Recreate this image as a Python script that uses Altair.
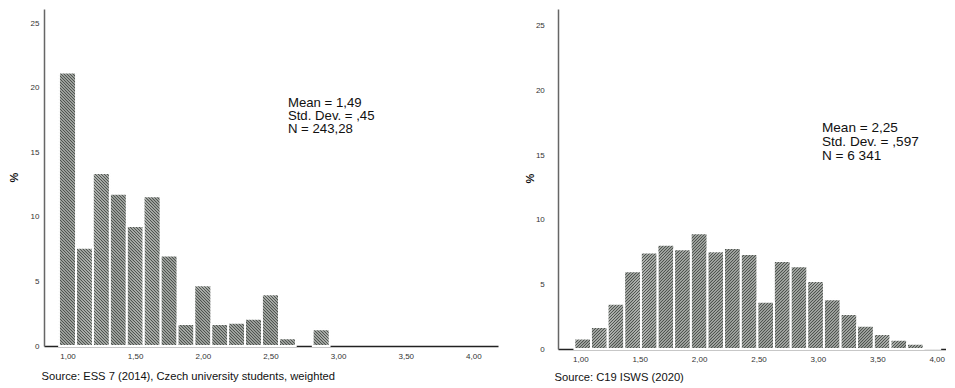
import altair as alt
import pandas as pd
import numpy as np

# ---------------- data ----------------
# Left panel: ESS 7 (2014), bins of width 0.125 centred on the values
ess_centers = [1.000, 1.125, 1.250, 1.375, 1.500, 1.625, 1.750, 1.875,
               2.000, 2.125, 2.250, 2.375, 2.500, 2.625, 2.750, 2.875]
ess_pct = [21.2, 7.6, 13.4, 11.8, 9.3, 11.6, 7.0, 1.7,
           4.7, 1.7, 1.8, 2.1, 4.0, 0.6, 0.0, 1.3]
ess_bin_width = 0.125

# Right panel: C19 ISWS (2020)
c19_centers = [1.02, 1.16, 1.30, 1.44, 1.58, 1.72, 1.86, 2.00, 2.14, 2.28, 2.42,
               2.56, 2.70, 2.84, 2.98, 3.12, 3.26, 3.40, 3.54, 3.68, 3.82, 3.96]
c19_pct = [0.8, 1.7, 3.5, 6.0, 7.45, 8.05, 7.7, 8.95, 7.55, 7.8, 7.35,
           3.65, 6.8, 6.4, 5.25, 3.85, 2.7, 1.8, 1.15, 0.7, 0.4, 0.05]
c19_bin_width = 0.14

x_ticks = [1.0, 1.5, 2.0, 2.5, 3.0, 3.5, 4.0]
y_ticks = [0, 5, 10, 15, 20, 25]

ess_stats = ["Mean = 1,49", "Std. Dev. = ,45", "N = 243,28"]
c19_stats = ["Mean = 2,25", "Std. Dev. = ,597", "N = 6 341"]
ess_source = "Source: ESS 7 (2014), Czech university students, weighted"
c19_source = "Source: C19 ISWS (2020)"

FONT = "Liberation Sans"
DARK = "#4f544f"
LIGHT = "#e3e5e3"


def hatch_segments(df, xdom, ydom, W, H, direction, period=3.0):
    """Diagonal hatch lines clipped to each bar, returned in data units."""
    sx = W / (xdom[1] - xdom[0])
    sy = H / (ydom[1] - ydom[0])
    rows = []
    for _, r in df.iterrows():
        xa = (r["lo"] - xdom[0]) * sx
        xb = (r["hi"] - xdom[0]) * sx
        ya = H - (r["pct"] - ydom[0]) * sy
        yb = H - (0 - ydom[0]) * sy
        if direction == "down":
            cmin, cmax = ya - xb, yb - xa
        else:
            cmin, cmax = ya + xa, yb + xb
        for k in range(int(np.ceil(cmin / period)), int(np.floor(cmax / period)) + 1):
            c = k * period
            if direction == "down":
                x1, x2 = max(xa, ya - c), min(xb, yb - c)
                if x2 - x1 <= 0.05:
                    continue
                p = (x1, x1 + c, x2, x2 + c)
            else:
                x1, x2 = max(xa, c - yb), min(xb, c - ya)
                if x2 - x1 <= 0.05:
                    continue
                p = (x1, c - x1, x2, c - x2)
            rows.append({
                "hx": xdom[0] + p[0] / sx,
                "hy": ydom[0] + (H - p[1]) / sy,
                "hx2": xdom[0] + p[2] / sx,
                "hy2": ydom[0] + (H - p[3]) / sy,
            })
    return pd.DataFrame(rows)


def panel(centers, pct, bw, xdom, ydom, W, H, direction, stats, stats_x, stats_y,
          stats_size, stats_lh, source, ylabpad, ytx, yty, xtx, xty):
    df = pd.DataFrame({"c": centers, "pct": pct})
    df["lo"] = df["c"] - bw / 2
    df["hi"] = df["c"] + bw / 2
    df["zero"] = 0.0
    df = df[df["pct"] > 0].reset_index(drop=True)

    xs = alt.Scale(domain=xdom, nice=False, zero=False)
    ys = alt.Scale(domain=ydom, nice=False, zero=False)
    xaxis = alt.Axis(values=x_ticks, labelExpr="replace(format(datum.value, '.2f'), '.', ',')",
                     ticks=False, tickSize=0, grid=False, labelFontSize=8, labelColor="#333",
                     labelPadding=6, labelFont=FONT, domainColor="#222", domainWidth=1.5,
                     title=source, titleFont=FONT, titleFontSize=11.2, titleFontWeight="normal",
                     titleColor="#111", titleAnchor="start", titleAlign="left",
                     titleBaseline="middle", titleX=xtx, titleY=xty)
    yaxis = alt.Axis(values=y_ticks, format="d", ticks=False, tickSize=0, grid=False,
                     labelFontSize=8, labelColor="#333", labelPadding=ylabpad, labelFont=FONT,
                     domainColor="#666", domainWidth=1.5,
                     title="%", titleFont=FONT, titleFontSize=11, titleFontWeight="bold",
                     titleColor="#111", titleAngle=270, titleAlign="center",
                     titleBaseline="middle", titleX=ytx, titleY=yty)

    base = alt.Chart(df).mark_rect(fill=LIGHT).encode(
        x=alt.X("lo:Q", scale=xs, axis=xaxis), x2="hi:Q",
        y=alt.Y("pct:Q", scale=ys, axis=yaxis), y2="zero:Q")

    hdf = hatch_segments(df, xdom, ydom, W, H, direction)
    hatch = alt.Chart(hdf).mark_rule(color=DARK, strokeWidth=1.35).encode(
        x=alt.X("hx:Q", scale=xs, axis=xaxis), x2="hx2:Q",
        y=alt.Y("hy:Q", scale=ys, axis=yaxis), y2="hy2:Q")

    outline = alt.Chart(df).mark_rect(fill="white", fillOpacity=0, stroke="white",
                                      strokeWidth=1.8).encode(
        x=alt.X("lo:Q", scale=xs, axis=xaxis), x2="hi:Q",
        y=alt.Y("pct:Q", scale=ys, axis=yaxis), y2="zero:Q")

    sdf = pd.DataFrame({"x": [stats_x], "y": [stats_y]})
    txt = alt.Chart(sdf).mark_text(text=stats, align="left", baseline="alphabetic",
                                   font=FONT, fontSize=stats_size, lineHeight=stats_lh,
                                   color="#111").encode(
        x=alt.X("x:Q", scale=xs, axis=xaxis),
        y=alt.Y("y:Q", scale=ys, axis=yaxis))

    return alt.layer(base, hatch, outline, txt).properties(width=W, height=H)


left = panel(ess_centers, ess_pct, ess_bin_width,
             [0.8263, 4.1818], [0, 26.12], 454, 337, "down",
             ess_stats, 2.629, 18.54, 13.2, 13.2, ess_source,
             ylabpad=5, ytx=-29.5, yty=168, xtx=-3, xty=30)

right = panel(c19_centers, c19_pct, c19_bin_width,
              [0.8123, 4.0783], [0, 26.3], 388, 340, "up",
              c19_stats, 3.034, 16.80, 13.6, 14.3, c19_source,
              ylabpad=13.7, ytx=-28, yty=169, xtx=-4, xty=28)

chart = alt.hconcat(left, right, spacing=60, bounds="flush").properties(
    padding={"left": 0, "top": 1, "right": 0, "bottom": 0},
    background="white",
).configure_view(strokeWidth=0)

chart.save("out.html", embed_options={"renderer": "svg", "actions": False})
